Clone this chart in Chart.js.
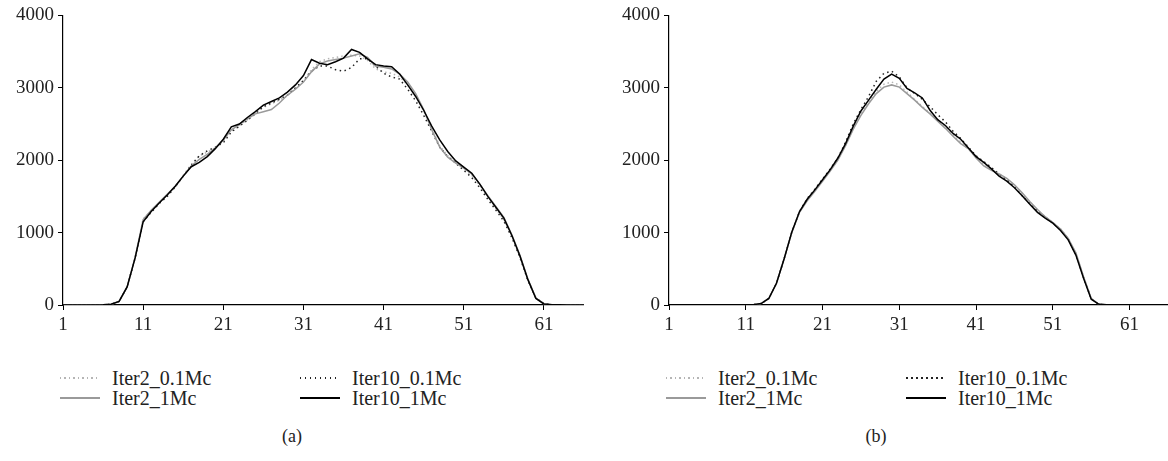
<!DOCTYPE html>
<html lang="en">
<head>
  <meta charset="UTF-8">
  <title>Iter2 / Iter10 profiles</title>
  <script src="https://cdn.jsdelivr.net/npm/chart.js@4.4.2/dist/chart.umd.min.js"></script>
  <style>
    body {
      margin: 0;
      background: #fff;
      font-family: 'Liberation Serif', 'DejaVu Serif', serif;
      color: #222;
    }
    .wrap {
      position: relative;
      width: 1168px;
      height: 461px;
      overflow: hidden;
    }
    .box { position: absolute; top: 0; }
    .leg {
      position: absolute;
      font-size: 20px;
      line-height: 22px;
      white-space: nowrap;
    }
    .sample {
      position: absolute;
      height: 2px;
    }
    .cap {
      position: absolute;
      top: 426px;
      font-size: 18px;
      width: 584px;
      text-align: center;
    }
  </style>
</head>
<body>
<div class="wrap" id="wrap">
  <div class="box" style="left:0;width:584px;height:340px"><canvas id="chartA" width="584" height="340"></canvas></div>
  <div class="box" style="left:606px;width:562px;height:340px"><canvas id="chartB" width="562" height="340"></canvas></div>
  <div class="cap" style="left:0">(a)</div>
  <div class="cap" style="left:584px">(b)</div>
</div>

<script>
  // x categories 1..66
  const labels = [];
  for (let i = 1; i <= 66; i++) labels.push(String(i));

  const seriesNames = ['Iter2_0.1Mc', 'Iter10_0.1Mc', 'Iter2_1Mc', 'Iter10_1Mc'];
  const yTicks = [0, 1000, 2000, 3000, 4000];

  // (a)
  const a_iter2_01 = [0,0,0,0,0,2, 10,50,250,650, 1190,1300,1410,1510,1630,1790,1940,2060,2110,2170,
    2260,2400,2480,2560,2660,2730,2780,2830,2890,2990, 3100,3250,3360,3400,3420,3440,3450,3440,3380,3260,
    3220,3200,3150,3040,2880,2680,2440,2200,2060,1980, 1880,1790,1650,1490,1330,1180,950,670,350,95,
    18,5,2,0,0,0];
  const a_iter10_01 = [0,0,0,0,0,2, 10,50,250,650, 1150,1280,1400,1500,1630,1780,1930,2060,2130,2180,
    2240,2390,2470,2550,2640,2740,2790,2840,2900,3000, 3100,3230,3300,3300,3250,3230,3280,3400,3400,3300,
    3200,3150,3120,2980,2820,2620,2400,2180,2050,1960, 1860,1760,1620,1460,1310,1160,930,660,340,95,
    20,5,2,0,0,0];
  const a_iter2_1 = [0,0,0,0,0,2, 10,50,250,660, 1180,1310,1420,1530,1640,1780,1920,2010,2080,2170,
    2280,2420,2490,2570,2640,2670,2700,2790,2900,2980, 3080,3220,3330,3370,3390,3410,3440,3470,3420,3300,
    3285,3260,3190,3080,2920,2700,2420,2180,2040,1960, 1890,1810,1670,1510,1360,1210,970,690,360,95,
    18,5,2,0,0,0];
  const a_iter10_1 = [0,0,0,0,0,2, 10,50,250,650, 1150,1290,1410,1520,1640,1780,1910,1970,2050,2160,
    2290,2460,2500,2590,2670,2760,2810,2860,2940,3040, 3170,3390,3340,3320,3360,3410,3530,3490,3400,3320,
    3300,3290,3190,3040,2880,2690,2470,2280,2120,1990, 1905,1820,1670,1500,1350,1200,960,680,350,90,
    15,5,2,0,0,0];

  // (b)
  const b_iter2_01 = [3,3,3,3,3,3,3,3,3,3, 3,5,20,90,300,640,1000,1280,1450,1580,
    1720,1860,2010,2210,2440,2640,2800,2950,3050,3080, 3040,2940,2840,2740,2650,2560,2460,2350,2250,2150,
    2050,1940,1870,1800,1740,1650,1540,1420,1310,1220, 1140,1050,920,710,390,90,10,3,3,3,
    3,3,3,3,3,3];
  const b_iter10_01 = [3,3,3,3,3,3,3,3,3,3, 3,5,20,90,300,640,1010,1290,1470,1600,
    1740,1880,2030,2250,2500,2700,2880,3090,3200,3230, 3150,3000,2920,2840,2740,2630,2530,2400,2300,2180,
    2060,1980,1900,1810,1730,1630,1510,1400,1300,1210, 1130,1040,910,700,380,85,10,3,3,3,
    3,3,3,3,3,3];
  const b_iter2_1 = [3,3,3,3,3,3,3,3,3,3, 3,5,20,90,300,640,1000,1280,1440,1570,
    1710,1850,2000,2200,2430,2620,2780,2920,3010,3040, 3010,2920,2830,2730,2640,2540,2440,2330,2230,2160,
    2030,1920,1860,1810,1750,1660,1550,1430,1320,1220, 1140,1050,920,720,390,90,10,3,3,3,
    3,3,3,3,3,3];
  const b_iter10_1 = [3,3,3,3,3,3,3,3,3,3, 3,5,20,90,300,640,1010,1290,1460,1590,
    1730,1870,2030,2230,2470,2680,2830,2980,3120,3190, 3130,2990,2930,2860,2690,2560,2480,2370,2290,2170,
    2050,1970,1880,1780,1710,1620,1510,1390,1280,1200, 1130,1030,900,690,370,80,10,3,3,3,
    3,3,3,3,3,3];

  // line look for each series, same order as seriesNames
  const styles = [
    { color: '#b5b5b5', dash: [1.5, 3], order: 3 },
    { color: '#222', dash: [1.5, 3.5], order: 2 },
    { color: '#9a9a9a', dash: [], order: 1 },
    { color: '#000', dash: [], order: 0 }
  ];

  const fontTicks = { family: "'Liberation Serif', serif", size: 19 };

  function makeChart(id, seriesData) {
    const datasets = seriesData.map((d, k) => ({
      label: seriesNames[k],
      data: d,
      borderColor: styles[k].color,
      borderDash: styles[k].dash,
      borderWidth: 1.5,
      pointRadius: 0,
      tension: 0,
      fill: false,
      order: styles[k].order
    }));

    return new Chart(document.getElementById(id), {
      type: 'line',
      data: { labels: labels, datasets: datasets },
      options: {
        responsive: false,
        animation: false,
        devicePixelRatio: 1,
        layout: { padding: { top: 13, right: 0, left: 0, bottom: 0 } },
        plugins: { legend: { display: false }, tooltip: { enabled: false } },
        scales: {
          x: {
            offset: false,
            grid: { drawOnChartArea: false, tickLength: 5, color: '#000' },
            border: { color: '#000', width: 1.2 },
            ticks: {
              color: '#222',
              font: fontTicks,
              autoSkip: false,
              maxRotation: 0,
              padding: 4,
              callback: (v, i) => (i % 10 === 0 ? labels[i] : null)
            },
            afterFit: s => { s.height = 35; }
          },
          y: {
            min: 0,
            max: 4000,
            afterBuildTicks: s => { s.ticks = yTicks.map(v => ({ value: v })); },
            grid: { drawOnChartArea: false, tickLength: 5, color: '#000' },
            border: { color: '#000', width: 1.2 },
            ticks: { color: '#222', font: fontTicks, padding: 4, callback: v => String(v) },
            afterFit: s => { s.width = 63; }
          }
        }
      }
    });
  }

  makeChart('chartA', [a_iter2_01, a_iter10_01, a_iter2_1, a_iter10_1]);
  makeChart('chartB', [b_iter2_01, b_iter10_01, b_iter2_1, b_iter10_1]);

  // legends under each panel, two columns
  const wrap = document.getElementById('wrap');
  function sampleBg(st) {
    if (!st.dash.length) return st.color;
    const on = st.dash[0], gap = st.dash[0] + st.dash[1];
    return 'repeating-linear-gradient(to right,' + st.color + ' 0 ' + on + 'px, transparent ' + on + 'px ' + gap + 'px)';
  }
  function addLegend(x0) {
    const cols = [0, 240];
    const rows = [378, 398];
    seriesNames.forEach((name, k) => {
      const cx = x0 + cols[k % 2];
      const cy = rows[Math.floor(k / 2)];
      const st = styles[k];
      const line = document.createElement('div');
      line.className = 'sample';
      line.style.left = cx + 'px';
      line.style.top = (cy - 1) + 'px';
      line.style.width = '40px';
      line.style.height = '1.5px';
      line.style.background = sampleBg(st);
      wrap.appendChild(line);
      const t = document.createElement('div');
      t.className = 'leg';
      t.style.left = (cx + 52) + 'px';
      t.style.top = (cy - 11) + 'px';
      t.textContent = name;
      wrap.appendChild(t);
    });
  }
  addLegend(60);
  addLegend(666);
</script>
</body>
</html>
